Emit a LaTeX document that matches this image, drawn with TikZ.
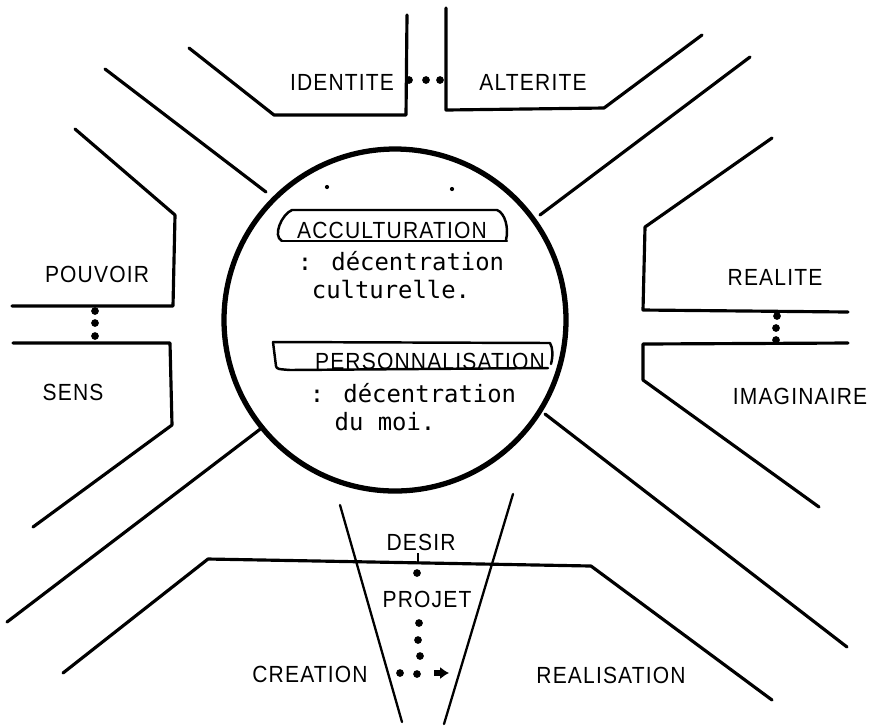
\documentclass[tikz,border=0pt]{standalone}
\usepackage{fontspec}
\setmainfont{Liberation Sans}
\newfontfamily\labelfont[FakeStretch=0.9,LetterSpace=5]{Liberation Sans}
\newfontfamily\notefont{DejaVu Sans Mono}
\usetikzlibrary{arrows.meta}
\tikzset{
	road/.style={line width=1.8pt, line cap=round, line join=round},
	rim/.style={line width=3pt},
	tab/.style={line width=1.4pt, line cap=round, line join=round},
	lab/.style={font=\labelfont\fontsize{13.3}{15}\selectfont, inner sep=0pt},
	note/.style={font=\notefont\fontsize{13.6}{16}\selectfont, inner sep=0pt, anchor=base},
	blob/.style={fill=black}
}

\begin{document}
\begin{tikzpicture}[x=0.02cm, y=-0.02cm]
			%%%%% START %%%%%
			\useasboundingbox (0,0) rectangle (874,725);
			
			% centre
			\draw[rim] (395,320) circle (171);
			\fill (327,187) circle (1.2pt);
			\fill (452,189) circle (1.2pt);
			
			% top
			\draw[road] (189,48) -- (274,115) -- (406,115) -- (407,15);
			\draw[road] (446,8) -- (446,110) -- (604,108) -- (702,35);
			\draw[road] (105,69) -- (266,192);
			\draw[road] (750,57) -- (540,215);
			\fill[blob] (409,80) circle (2.2pt);
			\fill[blob] (426,80) circle (2.2pt);
			\fill[blob] (440,80) circle (2.2pt);
			
			% left
			\draw[road] (75,129) -- (175,215) -- (173,306) -- (12,306);
			\draw[road] (13,343) -- (170,343) -- (172,425) -- (33,527);
			\draw[road] (263,427) -- (7,622);
			\fill[blob] (95,311) circle (2.2pt);
			\fill[blob] (95,323) circle (2.2pt);
			\fill[blob] (95,336) circle (2.2pt);
			
			% right
			\draw[road] (772,138) -- (645,227) -- (643,310) -- (848,312);
			\draw[road] (848,343) -- (643,344) -- (643,380) -- (819,507);
			\draw[road] (545,414) -- (847,647);
			\fill[blob] (777,316) circle (2.2pt);
			\fill[blob] (776,328) circle (2.2pt);
			\fill[blob] (776,340) circle (2.2pt);
			
			% bottom
			\draw[road] (63,673) -- (208,559) -- (591,566) -- (772,700);
			\draw[road, line width=1.3pt] (340,505) -- (402,722);
			\draw[road, line width=1.3pt] (513,494) -- (444,724);
			\draw[line width=1.4pt] (418,553) -- (418,562);
			\fill[blob] (417,573) circle (2.2pt);
			\fill[blob] (419,623) circle (2.2pt);
			\fill[blob] (418,640) circle (2.2pt);
			\fill[blob] (420,656) circle (2.2pt);
			\fill[blob] (400,673) circle (2.2pt);
			\fill[blob] (417,674) circle (2.2pt);
			\draw[line width=3.2pt, -{Latex[length=5pt,width=7pt]}] (434,673) -- (449,673);
			
			% tabs
			\draw[tab] (282,241) .. controls (272,236) and (282,214) .. (292,210) -- (497,210) .. controls (505,213) and (509,228) .. (506,240);
			\draw[tab] (282,241) -- (507,241);
			\draw[tab] (273,342) -- (550,343) .. controls (553,348) and (553,356) .. (551,364);
			\draw[tab] (273,342) -- (276,366) .. controls (277,369) .. (290,370) -- (548,368);
			
			% labels
			\node[lab] (identite) at (342,82) {IDENTITE};
			\node[lab] (alterite) at (533,82) {ALTERITE};
			\node[lab] (pouvoir) at (97,274) {POUVOIR};
			\node[lab] (sens) at (73,392) {SENS};
			\node[lab] (realite) at (775,277) {REALITE};
			\node[lab] (imaginaire) at (800,396) {IMAGINAIRE};
			\node[lab] (desir) at (421,542) {DESIR};
			\node[lab] (projet) at (427,599) {PROJET};
			\node[lab] (creation) at (310,674) {CREATION};
			\node[lab] (realisation) at (611,675) {REALISATION};
			\node[lab] (accult) at (392,230) {ACCULTURATION};
			\node[lab] (perso) at (430,361) {PERSONNALISATION};
			
			\node[note] (accnote) at (401,270) {: décentration};
			\node[note] (accnote2) at (391,298) {culturelle.};
			\node[note] (pernote) at (413,402) {: décentration};
			\node[note] (pernote2) at (385,430) {du moi.};
			
			%%%%% END %%%%%
\end{tikzpicture}
\end{document}
